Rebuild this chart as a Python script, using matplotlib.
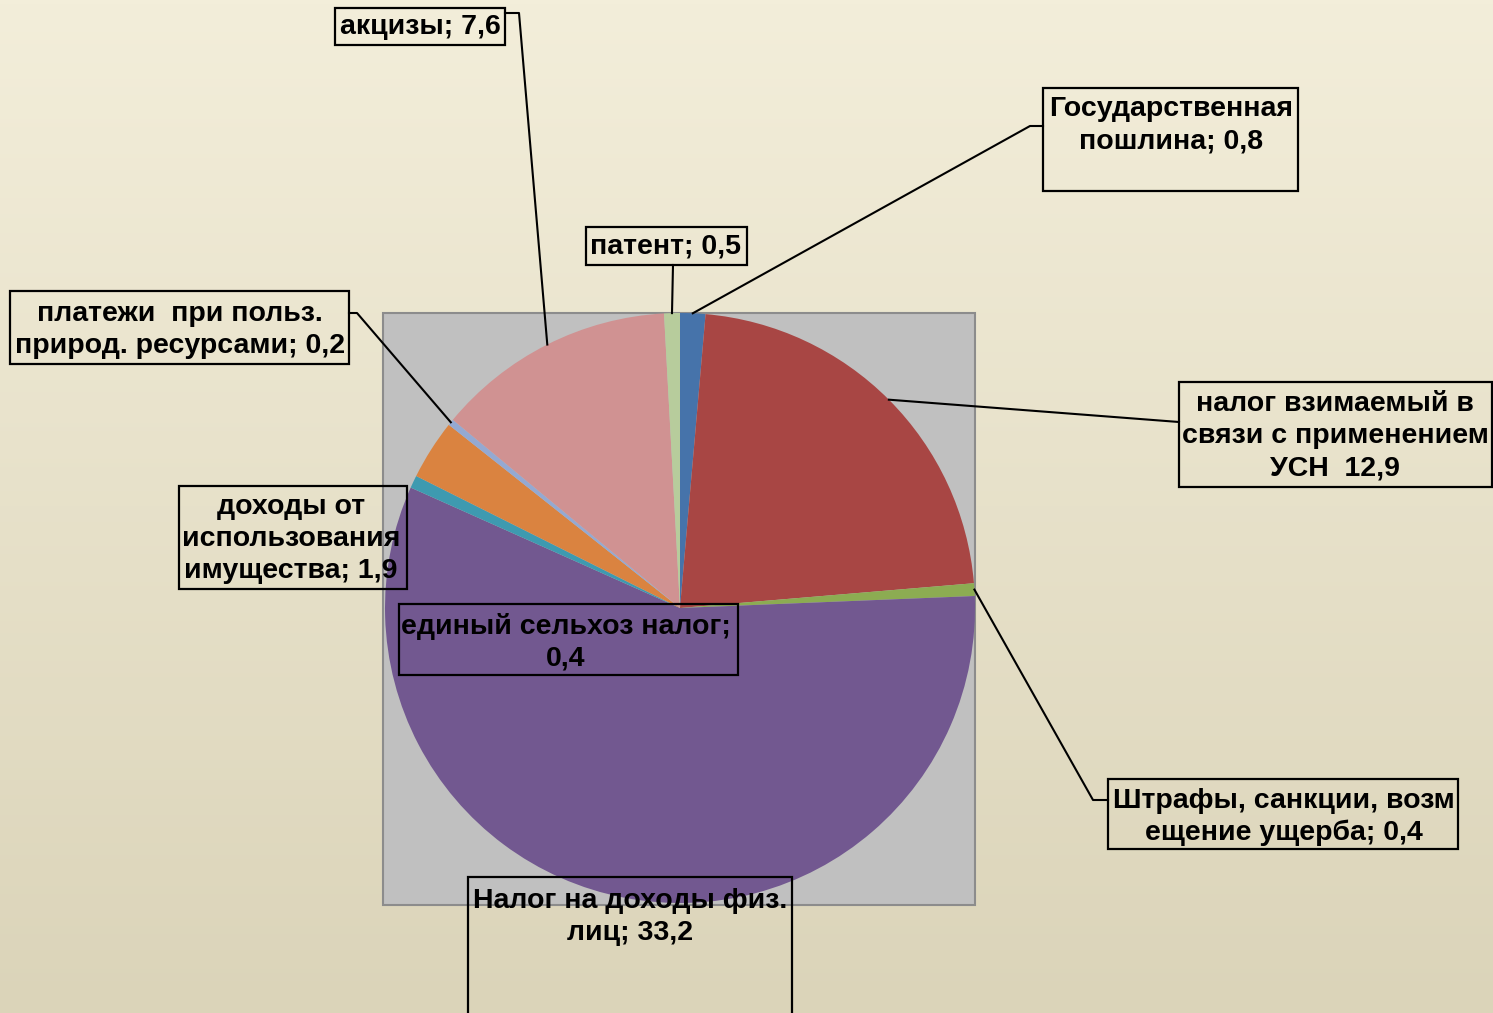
import numpy as np
import matplotlib.pyplot as plt
from matplotlib.patches import Rectangle

plt.rcParams['font.family'] = ['Liberation Sans', 'DejaVu Sans']

# Данные диаграммы (по часовой стрелке от 12 часов)
labels = [
    "Государственная\nпошлина; 0,8",
    "налог взимаемый в\nсвязи с применением\nУСН  12,9",
    "Штрафы, санкции, возм\nещение ущерба; 0,4",
    "Налог на доходы физ.\nлиц; 33,2",
    "единый сельхоз налог;\n0,4",
    "доходы от\nиспользования\nимущества; 1,9",
    "платежи  при польз.\nприрод. ресурсами; 0,2",
    "акцизы; 7,6",
    "патент; 0,5",
]
values = [0.8, 12.9, 0.4, 33.2, 0.4, 1.9, 0.2, 7.6, 0.5]
colors = ["#4673AA", "#A84644", "#8CAC52", "#725890", "#3E9AB0",
          "#DA8340", "#94A9D2", "#D09292", "#B7CC9C"]

W, H = 1493, 1013
fig = plt.figure(figsize=(W / 100, H / 100), dpi=100)
ax = fig.add_axes([0, 0, 1, 1])
ax.set_xlim(0, W)
ax.set_ylim(0, H)
ax.axis("off")

# Фон с градиентом
grad = np.linspace(0, 1, 256).reshape(-1, 1)
top = np.array([0xF3, 0xEE, 0xDA]) / 255
bot = np.array([0xDB, 0xD4, 0xB9]) / 255
img = top + (bot - top) * grad[..., None]
ax.imshow(img, extent=[0, W, 0, H], aspect="auto", zorder=0)

# Область построения
ax.add_patch(Rectangle((383, H - 905), 592, 592, facecolor="#C0C0C0",
                       edgecolor="#8C8C8C", lw=1.5, zorder=1))

cx, cy, r = 680, H - 608, 295
wedges, _ = ax.pie(values, colors=colors, startangle=90, counterclock=False,
                   center=(cx, cy), radius=r, frame=True,
                   wedgeprops=dict(linewidth=0))
for w in wedges:
    w.set_zorder(2)
ax.set_xlim(0, W)
ax.set_ylim(0, H)
ax.set_aspect("equal")
ax.axis("off")

# Положение подписей: (центр текста x, y), рамка (x0, y0, x1, y1), точка излома линии
boxes = [
    ((1171, 125), (1043, 88, 1298, 191), [(1043, 126), (1030, 126)]),
    ((1335, 436), (1179, 382, 1492, 487), [(1179, 422)]),
    ((1284, 817), (1108, 779, 1458, 849), [(1108, 800), (1093, 800)]),
    ((630, 917), (468, 877, 792, 1030), None),
    ((566, 642), (399, 604, 738, 675), None),
    ((291, 539), (179, 486, 407, 589), None),
    ((180, 330), (10, 291, 349, 364), [(349, 313), (357, 313)]),
    ((420, 27), (335, 8, 505, 45), [(505, 13), (519, 13)]),
    ((666, 246), (586, 227, 747, 265), [(673, 265)]),
]

cum = np.cumsum([0] + values)
total = cum[-1]
for i, (lab, (tpos, box, leader)) in enumerate(zip(labels, boxes)):
    x0, y0, x1, y1 = box
    ax.add_patch(Rectangle((x0, H - y1), x1 - x0, y1 - y0, fill=False,
                           edgecolor="black", lw=1.6, zorder=4))
    ax.text(tpos[0], H - tpos[1], lab, ha="center", va="center",
            multialignment="center", fontsize=20.5, fontweight="bold",
            linespacing=1.3, zorder=5)
    if leader:
        mid = np.deg2rad((cum[i] + values[i] / 2) / total * 360)
        px, py = cx + r * np.sin(mid), cy + r * np.cos(mid)
        pts = [(px, py)] + [(x, H - y) for x, y in leader[::-1]]
        xs, ys = zip(*pts)
        ax.plot(xs, ys, color="black", lw=1.5, zorder=3)

plt.savefig("out.png", dpi=100)
